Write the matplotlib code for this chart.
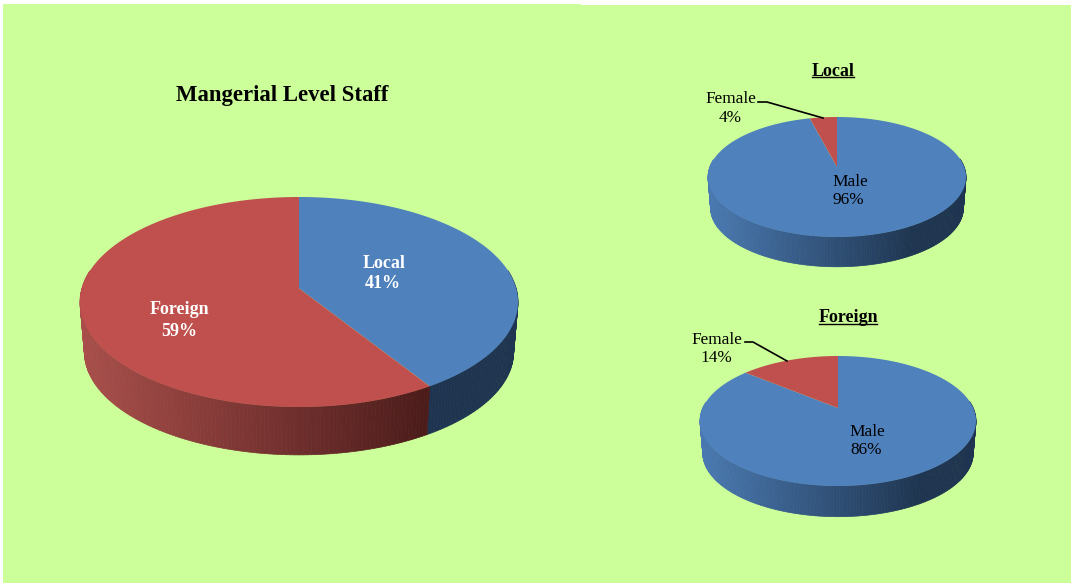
import numpy as np
import matplotlib
matplotlib.use("Agg")
from matplotlib import pyplot as plt
from matplotlib.patches import Rectangle
from matplotlib.path import Path
from matplotlib.transforms import Affine2D, Transform

plt.rcParams['font.family'] = ['Liberation Serif', 'DejaVu Serif']

W, H = 1071, 584

# data
staff_labels = ['Local', 'Foreign']
staff_values = [41, 59]
local_labels = ['Male', 'Female']
local_values = [96, 4]
foreign_labels = ['Male', 'Female']
foreign_values = [86, 14]

BLUE = '#4F81BD'
RED = '#C0504D'
BG = '#CCFF99'


def perspective(xy, k):
    # tilted circle: the rim stays put, the centre moves up by k
    x, y = xy[:, 0], xy[:, 1]
    d = 1 + k * y
    return np.column_stack([np.sqrt(1 - k * k) * x / d, (y + k) / d])


class TiltMap(Transform):
    input_dims = 2
    output_dims = 2
    is_separable = False
    has_inverse = False

    def __init__(self, k):
        super().__init__()
        self.k = k

    def transform_non_affine(self, values):
        return perspective(np.asarray(values), self.k)

    def transform_path_non_affine(self, path):
        # curves flatten in pixel-like units, so scale up first or the arc gets coarse
        big = path.transformed(Affine2D().scale(2000))
        poly = big.to_polygons(closed_only=True)[0] / 2000
        return Path(perspective(poly, self.k), closed=True)


def side_color(c1, c2, x):
    # side gets darker to the right and stays dark past x=0.6
    t = np.clip((x + 1) / 1.6, 0, 1)
    a = np.array(matplotlib.colors.to_rgb(c1))
    b = np.array(matplotlib.colors.to_rgb(c2))
    return tuple(a + (b - a) * t)


def pie3d(fig, values, colors, shades, cx, cy, rx, ry, depth, k, inset=0.98):
    dy = depth / ry
    pos = [(cx - rx) / W, 1 - (cy + ry + depth) / H, 2 * rx / W, (2 * ry + depth) / H]
    ax = fig.add_axes(pos)
    wedges, _ = ax.pie(values, colors=colors, startangle=90, counterclock=False,
                       wedgeprops={'linewidth': 0})
    ax.set_aspect('auto')
    ax.set_xlim(-1, 1)
    ax.set_ylim(-1 - dy, 1)
    ax.axis('off')
    tilt = TiltMap(k)
    for w, shade in zip(wedges, shades):
        w.set_transform(tilt + ax.transData)
        w.set_clip_on(False)
        w.set_zorder(5)
        w.set_antialiased(True)
        # side wall, narrow strips between the top rim and bottom rim
        ang = np.radians(np.arange(w.theta1, w.theta2 + 1.0, 1.0))
        ang[-1] = np.radians(w.theta2)
        rim = perspective(np.column_stack([np.cos(ang), np.sin(ang)]), k)
        low = np.column_stack([rim[:, 0] * inset, rim[:, 1] * inset - dy])
        for i in range(len(ang) - 1):
            # the back half is hidden behind the top face anyway
            if rim[i, 1] > 0.3:
                continue
            col = side_color(shade[0], shade[1], rim[i, 0])
            ax.fill([rim[i, 0], rim[i + 1, 0], low[i + 1, 0], low[i, 0]],
                    [rim[i, 1], rim[i + 1, 1], low[i + 1, 1], low[i, 1]],
                    color=col, lw=0.5, zorder=2, clip_on=False)
    return ax


fig = plt.figure(figsize=(W / 100, H / 100), dpi=100, facecolor='white')

# green panel, top edge has a small step
bg = fig.add_axes([0, 0, 1, 1], zorder=-1)
bg.set_xlim(0, W)
bg.set_ylim(H, 0)
bg.axis('off')
bg.add_patch(Rectangle((3, 5), W - 3, 578, color=BG, lw=0))
bg.add_patch(Rectangle((3, 4), 578, 1, color=BG, lw=0))

blue_side = ('#4A79B2', '#1E3450')
red_side = ('#A94E4B', '#4A1B1A')

pie3d(fig, staff_values, [BLUE, RED], [blue_side, red_side], 299, 302, 219, 105, 50, 0.13)
pie3d(fig, local_values, [BLUE, RED], [blue_side, red_side], 837, 177, 129, 60, 31, 0.167)
pie3d(fig, foreign_values, [BLUE, RED], [blue_side, red_side], 838, 421, 138, 65, 32, 0.2)

# texts and leader lines on top, in pixels
top = fig.add_axes([0, 0, 1, 1], zorder=10)
top.set_xlim(0, W)
top.set_ylim(H, 0)
top.axis('off')
top.patch.set_alpha(0)

top.text(282, 95, 'Mangerial Level Staff', fontsize=16.4, fontweight='bold', ha='center', va='center')

top.text(384, 263, staff_labels[0], color='white', fontsize=13, fontweight='bold', ha='center', va='center')
top.text(383, 284, '%d%%' % staff_values[0], color='white', fontsize=13, fontweight='bold', ha='center', va='center')
top.text(179, 310, staff_labels[1], color='white', fontsize=13, fontweight='bold', ha='center', va='center')
top.text(179, 332, '%d%%' % staff_values[1], color='white', fontsize=13, fontweight='bold', ha='center', va='center')

top.text(833, 72, 'Local', fontsize=13, fontweight='bold', ha='center', va='center')
top.plot([812, 854], [77, 77], color='black', lw=1)
top.text(848, 318, 'Foreign', fontsize=13, fontweight='bold', ha='center', va='center')
top.plot([819, 877], [323.5, 323.5], color='black', lw=1)

top.text(850, 182, local_labels[0], fontsize=12.4, ha='center', va='center')
top.text(848, 200, '%d%%' % local_values[0], fontsize=12.4, ha='center', va='center')
top.text(731, 99, local_labels[1], fontsize=12.4, ha='center', va='center')
top.text(730, 118, '%d%%' % local_values[1], fontsize=12.4, ha='center', va='center')

top.text(867, 432, foreign_labels[0], fontsize=12.4, ha='center', va='center')
top.text(866, 450, '%d%%' % foreign_values[0], fontsize=12.4, ha='center', va='center')
top.text(717, 340, foreign_labels[1], fontsize=12.4, ha='center', va='center')
top.text(716, 358, '%d%%' % foreign_values[1], fontsize=12.4, ha='center', va='center')

top.plot([758, 767, 823], [102, 102, 118], color='black', lw=1.2)
top.plot([745, 753, 787], [342, 342, 361], color='black', lw=1.2)

fig.savefig('out.png', dpi=100, facecolor='white')
